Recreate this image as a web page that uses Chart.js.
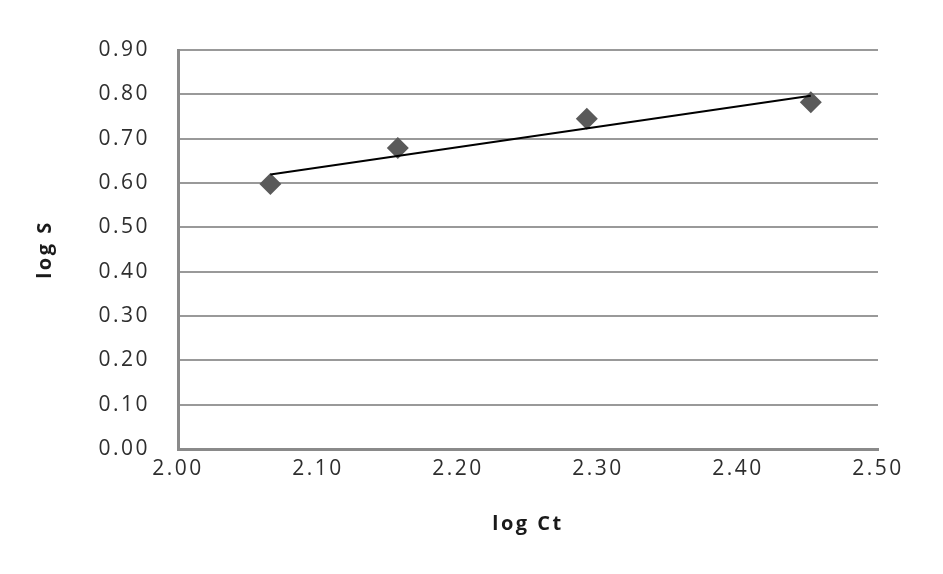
<!DOCTYPE html>
<html lang="en">
<head>
    <meta charset="UTF-8">
    <title>log S vs log Ct</title>
    <script src="https://cdnjs.cloudflare.com/ajax/libs/Chart.js/4.4.1/chart.umd.min.js"></script>
    <style>
        body {
            margin: 0;
            background: #fff;
        }
        #chart {
            display: block;
        }
    </style>
</head>
<body>
    <canvas id="chart" width="943" height="574"></canvas>

    <script>
        // measured points (log Ct, log S)
        const logCt = [2.066, 2.157, 2.292, 2.452];
        const logS = [0.598, 0.679, 0.745, 0.782];

        // linear trendline end points
        const trendX = [2.066, 2.452];
        const trendY = [0.619, 0.797];

        const xTicks = [2.00, 2.10, 2.20, 2.30, 2.40, 2.50];
        const yTicks = [0.00, 0.10, 0.20, 0.30, 0.40, 0.50, 0.60, 0.70, 0.80, 0.90];

        const FONT = '"Open Sans", "Liberation Sans", sans-serif';

        // the picture's text is quite wide, spread the letters a bit
        const spacing = {
            id: 'spacing',
            beforeDraw(chart) {
                chart.ctx.letterSpacing = '2.5px';
            }
        };

        const ctx = document.getElementById('chart').getContext('2d');
        new Chart(ctx, {
            type: 'scatter',
            data: {
                datasets: [
                    {
                        label: 'trend',
                        data: trendX.map((x, i) => ({ x: x, y: trendY[i] })),
                        showLine: true,
                        borderColor: '#000',
                        borderWidth: 2,
                        pointRadius: 0,
                        order: 0
                    },
                    {
                        label: 'log S',
                        data: logCt.map((x, i) => ({ x: x, y: logS[i] })),
                        pointStyle: 'rectRot',
                        pointRadius: 11,
                        backgroundColor: '#5a5a5a',
                        borderColor: '#5a5a5a',
                        borderWidth: 0,
                        order: 1
                    }
                ]
            },
            options: {
                responsive: false,
                animation: false,
                layout: {
                    padding: { left: 0, right: 65, top: 50, bottom: 0 }
                },
                plugins: {
                    legend: { display: false },
                    tooltip: { enabled: false }
                },
                scales: {
                    x: {
                        type: 'linear',
                        min: xTicks[0],
                        max: xTicks[xTicks.length - 1],
                        afterBuildTicks(axis) {
                            axis.ticks = xTicks.map(v => ({ value: v }));
                        },
                        afterFit(axis) {
                            axis.height = 125;
                        },
                        grid: { display: false, drawTicks: false },
                        border: { display: true, color: '#8a8a8a', width: 3 },
                        ticks: {
                            padding: 7,
                            color: '#2e2e2e',
                            font: { family: FONT, size: 21 },
                            callback: v => Number(v).toFixed(2)
                        },
                        title: {
                            display: true,
                            text: 'log Ct',
                            color: '#1a1a1a',
                            font: { family: FONT, size: 20, weight: 'bold' },
                            padding: { top: 0, bottom: 38 }
                        }
                    },
                    y: {
                        type: 'linear',
                        min: yTicks[0],
                        max: yTicks[yTicks.length - 1],
                        afterBuildTicks(axis) {
                            axis.ticks = yTicks.map(v => ({ value: v }));
                        },
                        afterFit(axis) {
                            axis.width = 178;
                        },
                        grid: { color: '#999', lineWidth: 2, drawTicks: false },
                        border: { display: true, color: '#8a8a8a', width: 3 },
                        ticks: {
                            padding: 28,
                            color: '#2e2e2e',
                            font: { family: FONT, size: 21 },
                            callback: v => Number(v).toFixed(2)
                        },
                        title: {
                            display: true,
                            text: 'log S',
                            color: '#1a1a1a',
                            font: { family: FONT, size: 20, weight: 'bold' },
                            padding: { top: 33, bottom: 0 }
                        }
                    }
                }
            },
            plugins: [spacing]
        });
    </script>
</body>
</html>
